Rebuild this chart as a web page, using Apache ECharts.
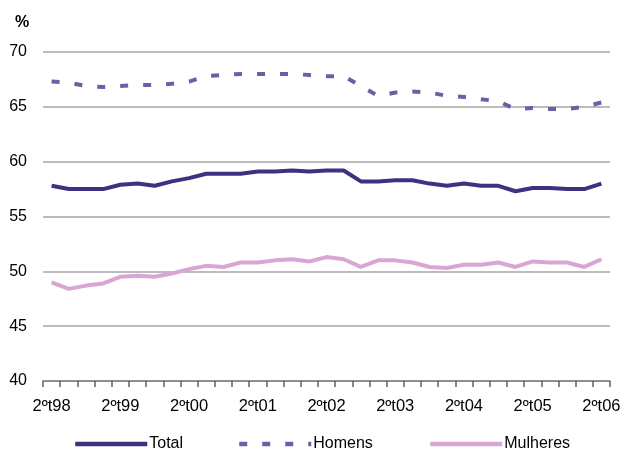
<!DOCTYPE html>
<html>
<head>
<meta charset="utf-8">
<script src="https://cdn.jsdelivr.net/npm/echarts@6/dist/echarts.min.js"></script>
<style>
  html, body { margin: 0; padding: 0; background: #ffffff; }
  #chart { width: 624px; height: 450px; }
</style>
</head>
<body>
<div id="chart"></div>
<script>
// Quarterly employment rate (%), 2nd quarter 1998 to 2nd quarter 2006
const quarters = [
  '2ºt98', '3ºt98', '4ºt98', '1ºt99',
  '2ºt99', '3ºt99', '4ºt99', '1ºt00',
  '2ºt00', '3ºt00', '4ºt00', '1ºt01',
  '2ºt01', '3ºt01', '4ºt01', '1ºt02',
  '2ºt02', '3ºt02', '4ºt02', '1ºt03',
  '2ºt03', '3ºt03', '4ºt03', '1ºt04',
  '2ºt04', '3ºt04', '4ºt04', '1ºt05',
  '2ºt05', '3ºt05', '4ºt05', '1ºt06',
  '2ºt06'
];

const total = [
  57.8, 57.5, 57.5, 57.5, 57.9, 58.0, 57.8, 58.2,
  58.5, 58.9, 58.9, 58.9, 59.1, 59.1, 59.2, 59.1,
  59.2, 59.2, 58.2, 58.2, 58.3, 58.3, 58.0, 57.8,
  58.0, 57.8, 57.8, 57.3, 57.6, 57.6, 57.5, 57.5,
  58.0
];

const homens = [
  67.3, 67.2, 66.9, 66.8, 66.9, 67.0, 67.0, 67.1,
  67.3, 67.8, 67.9, 68.0, 68.0, 68.0, 68.0, 67.9,
  67.8, 67.8, 66.9, 66.0, 66.3, 66.4, 66.3, 66.0,
  65.9, 65.7, 65.5, 64.8, 64.9, 64.8, 64.8, 65.0,
  65.4
];

const mulheres = [
  49.0, 48.4, 48.7, 48.9, 49.5, 49.6, 49.5, 49.8,
  50.2, 50.5, 50.4, 50.8, 50.8, 51.0, 51.1, 50.9,
  51.3, 51.1, 50.4, 51.0, 51.0, 50.8, 50.4, 50.3,
  50.6, 50.6, 50.8, 50.4, 50.9, 50.8, 50.8, 50.4,
  51.1
];

const seriesNames = ['Total', 'Homens', 'Mulheres'];

const yTicks = { min: 40, max: 70, step: 5 };

const font = '"Liberation Sans", Arial, sans-serif';
const colTotal = '#3d3180';
const colHomens = '#6b5fa6';
const colMulheres = '#d9a6d3';

// one legend block per series so each entry sits at its own spot
const legendLeft = [73, 237, 428];
const legends = seriesNames.map((name, i) => ({
  data: [name],
  left: legendLeft[i],
  top: 436,
  padding: 0,
  itemWidth: 72,
  itemHeight: 14,
  itemGap: 0,
  itemStyle: { opacity: 0 },
  lineStyle: { width: 4.5 },
  textStyle: { fontFamily: font, fontSize: 16, color: '#000', padding: [0, 0, 0, -3] }
}));

const chart = echarts.init(document.getElementById('chart'), null, { renderer: 'canvas' });

chart.setOption({
  animation: false,
  backgroundColor: '#ffffff',
  grid: { left: 43, right: 14, top: 52, bottom: 69, containLabel: false },
  title: {
    text: '%',
    left: 10,
    top: 10,
    textStyle: { fontFamily: font, fontSize: 16, fontWeight: 'bold', color: '#000' }
  },
  legend: legends,
  xAxis: {
    type: 'category',
    data: quarters,
    boundaryGap: true,
    axisLine: { lineStyle: { color: '#808080', width: 1.5 } },
    axisTick: { show: true, interval: 0, length: 6, lineStyle: { color: '#606060', width: 1.5 } },
    axisLabel: {
      interval: 3,
      margin: 17,
      fontFamily: font,
      fontSize: 16.5,
      color: '#000'
    },
    splitLine: { show: false }
  },
  yAxis: {
    type: 'value',
    min: yTicks.min,
    max: yTicks.max,
    interval: yTicks.step,
    axisLine: { show: false },
    axisTick: { show: false },
    axisLabel: { margin: 16, fontFamily: font, fontSize: 16, color: '#000' },
    splitLine: {
      lineStyle: { color: '#a6a6a6', width: 1.5 }
    }
  },
  series: [
    {
      name: seriesNames[0],
      type: 'line',
      data: total,
      symbol: 'none',
      color: colTotal,
      lineStyle: { color: colTotal, width: 4 }
    },
    {
      name: seriesNames[1],
      type: 'line',
      data: homens,
      symbol: 'none',
      color: colHomens,
      lineStyle: { color: colHomens, width: 4, type: [8, 15] }
    },
    {
      name: seriesNames[2],
      type: 'line',
      data: mulheres,
      symbol: 'none',
      color: colMulheres,
      lineStyle: { color: colMulheres, width: 4 }
    }
  ]
});
</script>
</body>
</html>
